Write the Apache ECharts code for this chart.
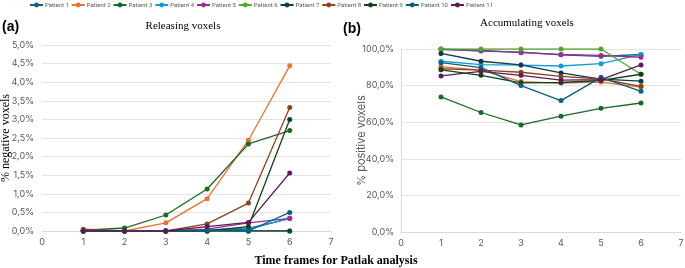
<!DOCTYPE html>
<html>
<head>
<meta charset="utf-8">
<script src="https://cdn.jsdelivr.net/npm/echarts@6/dist/echarts.min.js"></script>
<style>
  html, body { margin: 0; padding: 0; background: #fff; }
  #view { width: 685px; height: 268px; }
</style>
</head>
<body>
<div id="view"></div>
<script>
var myChart = echarts.init(document.getElementById('view'));

var frames = [1, 2, 3, 4, 5, 6];
var patients = ['Patient 1', 'Patient 2', 'Patient 3', 'Patient 4', 'Patient 5', 'Patient 6',
                'Patient 7', 'Patient 8', 'Patient 9', 'Patient 10', 'Patient 11'];
var colors = ['#156082', '#E97132', '#196B24', '#0F9ED5', '#A02B93', '#4EA72E',
              '#0D3A4E', '#8C441E', '#0F4016', '#095F80', '#601A58'];

// (a) % negative voxels
var negative = [
    [0, 0, 0, 0.02, 0.05, 0.34],
    [0, 0, 0.22, 0.87, 2.44, 4.44],
    [0.02, 0.08, 0.43, 1.13, 2.34, 2.70],
    [0, 0, 0, 0.03, 0.08, 0.33],
    [0, 0, 0, 0.05, 0.22, 0.34],
    [0, 0, 0, 0, 0, 0],
    [0, 0, 0, 0, 0, 0],
    [0.05, 0, 0, 0.19, 0.75, 3.32],
    [0, 0, 0, 0, 0.12, 3.0],
    [0, 0, 0, 0.02, 0, 0.50],
    [0, 0, 0, 0.12, 0.23, 1.56]
];

// (b) % positive voxels
var positive = [
    [100, 98.9, 98.3, 96.8, 96.0, 97.0],
    [90.4, 88.5, 82.2, 81.4, 81.9, 79.2],
    [73.8, 65.3, 58.5, 63.3, 67.6, 70.5],
    [93.3, 91.5, 91.2, 90.7, 92.0, 97.0],
    [99.7, 99.2, 98.0, 97.0, 96.5, 95.5],
    [100, 100, 100, 100, 100, 86.2],
    [97.6, 93.3, 91.3, 86.9, 83.5, 82.4],
    [89.2, 88.5, 87.3, 85.0, 83.6, 79.6],
    [88.6, 85.6, 81.5, 81.7, 82.8, 86.2],
    [92.5, 89.8, 80.0, 71.8, 84.5, 76.9],
    [85.3, 87.8, 85.6, 83.0, 83.3, 91.3]
];

function pct(v) {
    return v.toFixed(1).replace('.', ',') + '%';
}

var seriesd = [];
for (var i = 0; i < patients.length; i++) {
    seriesd.push({
        name: patients[i],
        type: 'line',
        xAxisIndex: 0,
        yAxisIndex: 0,
        symbol: 'circle',
        symbolSize: 5,
        lineStyle: { width: 1.3 },
        data: frames.map(function (f, k) { return [f, negative[i][k]]; })
    });
    seriesd.push({
        name: patients[i],
        type: 'line',
        xAxisIndex: 1,
        yAxisIndex: 1,
        symbol: 'circle',
        symbolSize: 5,
        lineStyle: { width: 1.3 },
        data: frames.map(function (f, k) { return [f, positive[i][k]]; })
    });
}

var xCommon = {
    type: 'value',
    min: 0,
    max: 7,
    interval: 1,
    axisLine: { show: true, lineStyle: { color: '#d9d9d9' } },
    axisTick: { show: false },
    splitLine: { show: false },
    axisLabel: { color: '#595959', fontSize: 9, fontFamily: 'Inter', margin: 7 }
};

var option = {
    animation: false,
    color: colors,
    legend: {
        top: 2,
        left: 29,
        padding: 0,
        itemWidth: 13,
        itemHeight: 6,
        itemGap: 2,
        textStyle: { fontSize: 6, color: '#595959', fontFamily: 'Roboto', padding: [0, 0, 0, -3] },
        data: patients
    },
    title: [
        { text: '(a)', left: 2, top: 20, padding: 0, textStyle: { fontSize: 14, fontWeight: 'bold', color: '#000', fontFamily: 'Liberation Sans' } },
        { text: '(b)', left: 343, top: 22, padding: 0, textStyle: { fontSize: 14, fontWeight: 'bold', color: '#000', fontFamily: 'Liberation Sans' } },
        { text: 'Releasing voxels', left: 183, top: 21, padding: 0, textAlign: 'center', textStyle: { fontSize: 11, fontWeight: 'normal', color: '#000', fontFamily: 'Liberation Serif' } },
        { text: 'Accumulating voxels', left: 527, top: 18, padding: 0, textAlign: 'center', textStyle: { fontSize: 11, fontWeight: 'normal', color: '#000', fontFamily: 'Liberation Serif' } },
        { text: 'Time frames for Patlak analysis', left: 336, top: 255, padding: 0, textAlign: 'center', textStyle: { fontSize: 12, fontWeight: 'bold', color: '#000', fontFamily: 'Liberation Serif' } }
    ],
    grid: [
        { left: 42, right: 354, top: 45, bottom: 37, outerBoundsMode: 'none' },
        { left: 401, right: 4, top: 49, bottom: 36, outerBoundsMode: 'none' }
    ],
    xAxis: [
        Object.assign({ gridIndex: 0 }, xCommon),
        Object.assign({ gridIndex: 1 }, xCommon)
    ],
    yAxis: [
        {
            gridIndex: 0, type: 'value', min: 0, max: 5, interval: 0.5,
            name: '% negative voxels', nameLocation: 'middle', nameGap: 30, nameMoveOverlap: false,
            nameTextStyle: { fontSize: 12, color: '#000', fontFamily: 'Liberation Serif' },
            axisLine: { show: false }, axisTick: { show: false },
            splitLine: { lineStyle: { color: '#e3e3e3' } },
            axisLabel: { color: '#595959', fontSize: 9, fontFamily: 'Inter', margin: 8, formatter: pct }
        },
        {
            gridIndex: 1, type: 'value', min: 0, max: 100, interval: 20,
            name: '% positive voxels', nameLocation: 'middle', nameGap: 34, nameMoveOverlap: false,
            nameTextStyle: { fontSize: 11, color: '#595959', fontFamily: 'Inter' },
            axisLine: { show: true, lineStyle: { color: '#d9d9d9' } }, axisTick: { show: false },
            splitLine: { lineStyle: { color: '#e3e3e3' } },
            axisLabel: { color: '#595959', fontSize: 9, fontFamily: 'Inter', margin: 7, formatter: pct }
        }
    ],
    series: seriesd
};

myChart.setOption(option);
</script>
</body>
</html>
